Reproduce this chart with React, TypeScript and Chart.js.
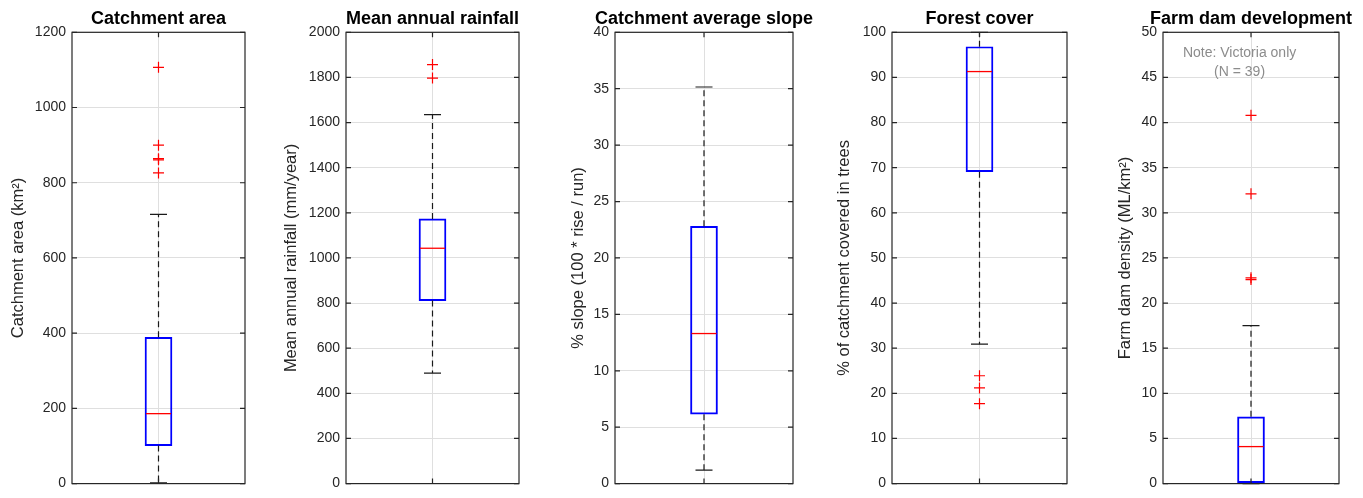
import { useEffect, useRef } from "react";
import { Chart, registerables } from "chart.js";

Chart.register(...registerables);
Chart.defaults.font.family = "'Liberation Sans', Arial, Helvetica, sans-serif";

const titles = ["Catchment area", "Mean annual rainfall", "Catchment average slope", "Forest cover", "Farm dam development"];
const yLabels = [
  "Catchment area (km²)",
  "Mean annual rainfall (mm/year)",
  "% slope (100 * rise / run)",
  "% of catchment covered in trees",
  "Farm dam density (ML/km²)",
];
const yMax = [1200, 2000, 40, 100, 50];
const yStep = [200, 200, 5, 10, 5];

// box plot stats
const whiskerLow = [2, 490, 1.2, 30.9, 0];
const q1 = [101, 811, 6.15, 69.1, 0.1];
const median = [186, 1043, 13.3, 91.3, 4.1];
const q3 = [389, 1173, 22.8, 96.8, 7.4];
const whiskerHigh = [716, 1635, 35.15, 100, 17.5];
const outliers = [
  [1107, 900, 864, 861, 826],
  [1857, 1797],
  [],
  [23.9, 21.2, 17.7],
  [40.8, 32.1, 22.8, 22.6],
];
const noteLines = ["Note: Victoria only", "(N = 39)"];

// where each panel sits on the page
const panelLeft = [5, 278, 565, 831, 1112];
const axisWidth = [67, 68, 50, 61, 51];
const plotWidth = [173, 173, 178, 175, 176];
const SIDE = 30; // spare room so long titles are not clipped

const FONT = "'Liberation Sans', Arial, Helvetica, sans-serif";
const AXIS = "#262626";
const GRID = "#dfdfdf";

const boxPlugin = {
  id: "matlabBox",
  afterDatasetsDraw(chart: any) {
    const i = chart.options.plugins.matlabBox.index;
    const { ctx, scales } = chart;
    const y = scales.y;
    const bar = chart.getDatasetMeta(0).data[0];
    const cx = bar.x;
    const half = bar.width / 2;
    const cap = 8.5;

    ctx.save();
    ctx.strokeStyle = "#1a1a1a";
    ctx.lineWidth = 1.2;
    ctx.setLineDash([6, 4]);
    ctx.beginPath();
    ctx.moveTo(cx, y.getPixelForValue(q3[i]));
    ctx.lineTo(cx, y.getPixelForValue(whiskerHigh[i]));
    ctx.moveTo(cx, y.getPixelForValue(q1[i]));
    ctx.lineTo(cx, y.getPixelForValue(whiskerLow[i]));
    ctx.stroke();
    ctx.setLineDash([]);
    ctx.beginPath();
    for (const v of [whiskerHigh[i], whiskerLow[i]]) {
      const py = y.getPixelForValue(v);
      ctx.moveTo(cx - cap, py);
      ctx.lineTo(cx + cap, py);
    }
    ctx.stroke();

    ctx.strokeStyle = "#ff0000";
    ctx.lineWidth = 1.3;
    ctx.beginPath();
    const pm = y.getPixelForValue(median[i]);
    ctx.moveTo(cx - half + 1, pm);
    ctx.lineTo(cx + half - 1, pm);
    ctx.stroke();
    ctx.restore();
  },
  afterDraw(chart: any) {
    const i = chart.options.plugins.matlabBox.index;
    const { ctx, chartArea: a, scales } = chart;
    const y = scales.y;
    const cx = scales.x.getPixelForValue(0);
    const tl = 5;

    ctx.save();
    ctx.strokeStyle = AXIS;
    ctx.lineWidth = 1.2;
    ctx.strokeRect(a.left, a.top, a.right - a.left, a.bottom - a.top);
    ctx.beginPath();
    for (const t of y.ticks) {
      const py = y.getPixelForValue(t.value);
      ctx.moveTo(a.left, py);
      ctx.lineTo(a.left + tl, py);
      ctx.moveTo(a.right - tl, py);
      ctx.lineTo(a.right, py);
    }
    ctx.moveTo(cx, a.top);
    ctx.lineTo(cx, a.top + tl);
    ctx.moveTo(cx, a.bottom);
    ctx.lineTo(cx, a.bottom - tl);
    ctx.stroke();

    // panel title, centred on the axes box (may be wider than the box)
    ctx.fillStyle = "#000";
    ctx.font = `bold 18px ${FONT}`;
    ctx.textAlign = "center";
    ctx.textBaseline = "middle";
    ctx.fillText(titles[i], (a.left + a.right) / 2, a.top - 13.5);

    if (i === 4) {
      ctx.fillStyle = "#8c8c8c";
      ctx.font = `14px ${FONT}`;
      const nx = a.left + 0.435 * (a.right - a.left);
      noteLines.forEach((line, k) => ctx.fillText(line, nx, a.top + 20.5 + k * 19));
    }
    ctx.restore();
  },
};

const Panel = ({ index }: { index: number }) => {
  const chartRef = useRef<HTMLCanvasElement>(null);

  useEffect(() => {
    let myChart: Chart | null = null;
    if (chartRef.current) {
      myChart = new Chart(chartRef.current, {
        type: "bar",
        data: {
          labels: ["A"],
          datasets: [
            {
              type: "bar",
              data: [[q1[index], q3[index]]] as any,
              backgroundColor: "rgba(0,0,0,0)",
              borderColor: "#0000ff",
              borderWidth: 1.3,
              borderSkipped: false,
              barThickness: 27,
            },
            {
              type: "scatter",
              data: outliers[index].map((v) => ({ x: "A", y: v })) as any,
              pointStyle: "cross",
              radius: 5.5,
              borderColor: "#ff0000",
              borderWidth: 1.2,
            },
          ],
        },
        options: {
          animation: false,
          responsive: true,
          maintainAspectRatio: false,
          layout: {
            autoPadding: false,
            padding: { left: SIDE, right: SIDE, top: 32.3, bottom: 8.7 },
          },
          plugins: {
            legend: { display: false },
            tooltip: { enabled: false },
            title: { display: false },
            matlabBox: { index },
          } as any,
          scales: {
            x: {
              type: "category",
              offset: true,
              ticks: { display: false },
              grid: { color: GRID, drawTicks: false, offset: false },
              border: { display: false },
            },
            y: {
              type: "linear",
              min: 0,
              max: yMax[index],
              ticks: {
                stepSize: yStep[index],
                color: AXIS,
                font: { size: 14 },
                padding: 6,
                callback: (v: any) => String(v),
              },
              grid: { color: GRID, drawTicks: false },
              border: { display: false },
              title: {
                display: true,
                text: yLabels[index],
                color: AXIS,
                font: { size: 16.5 },
                padding: { top: 4, bottom: 4 },
              },
              afterFit: (s: any) => {
                s.width = axisWidth[index];
              },
            },
          },
        },
        plugins: [boxPlugin],
      });
    }
    return () => {
      if (myChart) {
        myChart.destroy();
      }
    };
  }, [index]);

  return (
    <div
      style={{
        position: "absolute",
        left: panelLeft[index] - SIDE,
        top: 0,
        width: axisWidth[index] + plotWidth[index] + 2 * SIDE,
        height: 498,
      }}
    >
      <canvas ref={chartRef}></canvas>
    </div>
  );
};

export default function App() {
  return (
    <div
      style={{
        position: "absolute",
        left: 0,
        top: 0,
        width: 1363,
        height: 498,
        overflow: "hidden",
        background: "#fff",
      }}
    >
      {titles.map((_, i) => (
        <Panel key={i} index={i} />
      ))}
    </div>
  );
}
